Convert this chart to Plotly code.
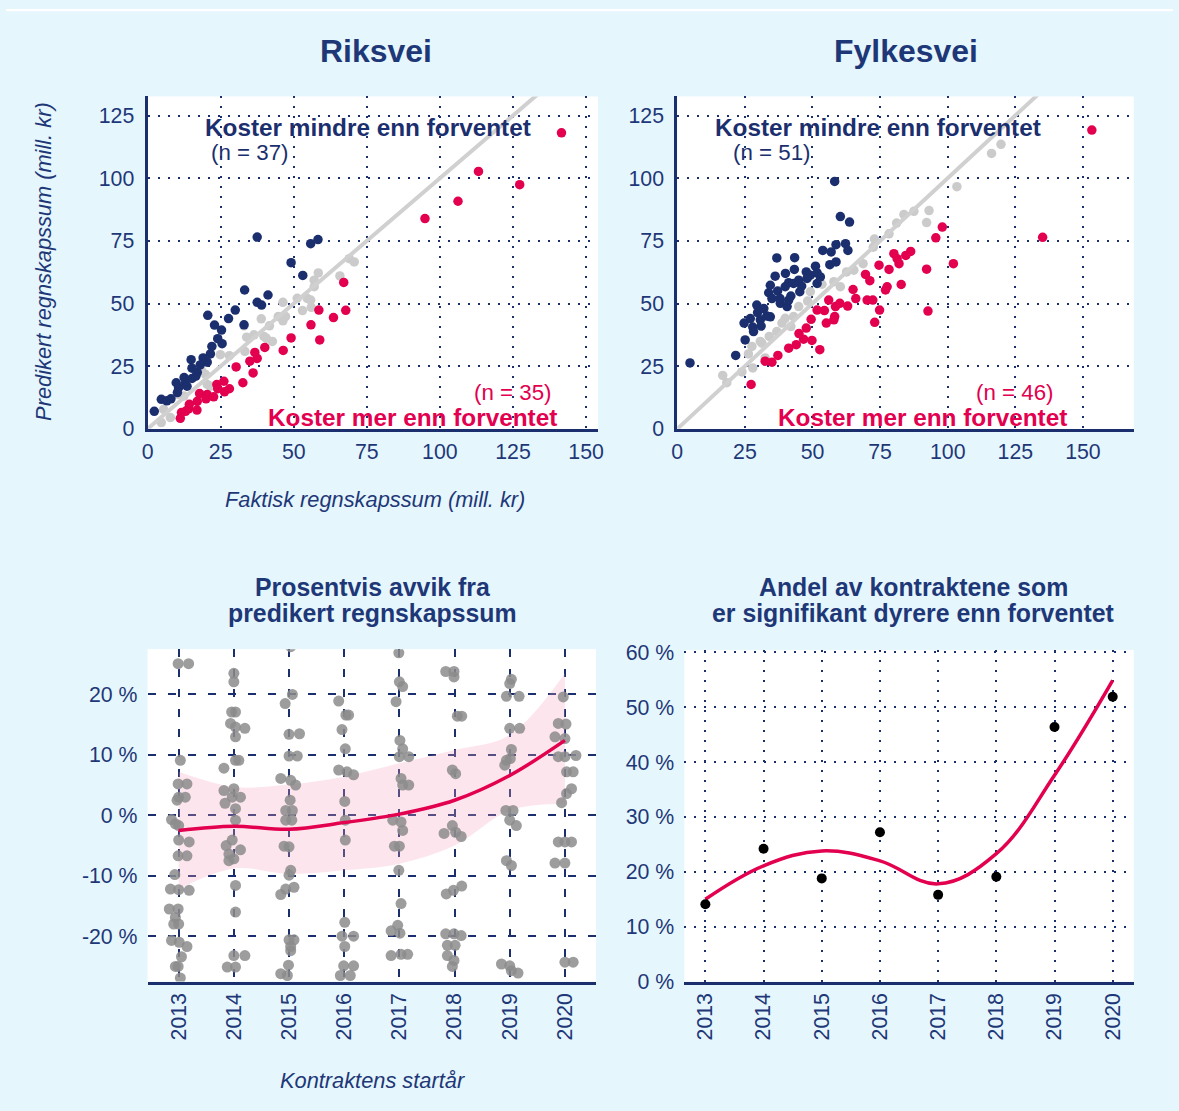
import plotly.graph_objects as go

# ---------------------------------------------------------------
# Data: actual vs. predicted cost (mill. kr) for national roads
# ---------------------------------------------------------------
riks_navy_x = [37.5, 55.8, 58.3, 49.1, 53.1, 33.2, 41.2, 37.5, 39.0, 30.0, 20.6, 27.7, 22.9, 25.3,
               33.0, 25.5, 22.0, 21.5, 19.0, 20.4, 14.9, 15.2, 15.2, 9.8, 10.6, 12.9, 4.7, 6.6, 2.3,
               10.2, 12.5, 17.0, 24.0, 8.0, 18.0, 13.5, 16.5]
riks_navy_y = [76.5, 73.9, 75.5, 66.3, 61.2, 55.4, 53.4, 50.5, 49.4, 47.4, 45.3, 44.0, 41.4, 39.4,
               41.5, 34.0, 32.9, 29.9, 28.3, 26.6, 27.6, 24.2, 20.1, 18.4, 16.4, 18.1, 11.8, 11.2, 7.0,
               14.5, 20.5, 22.5, 36.0, 12.0, 25.5, 17.0, 21.0]
riks_red_x = [141.6, 113.2, 127.3, 106.2, 94.9, 67.1, 58.6, 67.8, 63.6, 55.9, 58.9, 49.1, 46.4, 40.1,
              36.7, 37.5, 30.3, 36.1, 32.6, 23.7, 26.1, 26.3, 22.6, 17.8, 20.4, 14.3, 16.9, 11.6, 11.2,
              14.0, 20.0, 24.0, 35.0, 13.0, 17.0, 28.0]
riks_red_y = [118.1, 102.7, 97.4, 90.8, 83.9, 58.4, 47.4, 47.3, 44.4, 41.5, 35.5, 36.3, 31.3, 32.5,
              30.5, 28.1, 24.7, 22.3, 18.4, 17.7, 19.0, 14.8, 12.8, 14.1, 13.7, 9.8, 7.5, 6.5, 4.2,
              8.0, 12.0, 16.0, 27.0, 7.0, 11.0, 16.0]
riks_gray_x = [69.0, 70.7, 58.4, 57.0, 57.0, 65.8, 51.2, 54.6, 55.8, 53.0, 56.0, 46.3, 44.7, 47.2,
               46.3, 38.9, 41.7, 33.0, 33.9, 36.4, 39.8, 42.7, 40.6, 33.3, 28.0, 24.9, 18.6, 19.8,
               20.4, 21.5, 10.6, 12.4, 5.5, 7.8, 4.7]
riks_gray_y = [67.9, 66.6, 62.2, 59.3, 56.7, 61.0, 52.1, 52.1, 51.4, 47.2, 48.5, 50.5, 44.8, 44.8,
               43.1, 43.9, 41.1, 41.1, 36.6, 37.5, 36.9, 34.9, 36.2, 30.9, 29.2, 29.6, 23.0, 21.7,
               17.7, 17.0, 13.7, 13.1, 7.8, 4.5, 2.5]

# County roads
fylke_navy_x = [4.7, 21.6, 25.1, 24.7, 27.9, 28.2, 30.7, 29.7, 33.1, 34.4, 29.4, 33.8, 34.4, 36.2,
                37.1, 36.8, 38.1, 40.6, 41.2, 39.9, 41.2, 43.0, 44.9, 43.3, 43.4, 45.3, 47.7, 49.2,
                51.1, 51.7, 52.9, 51.7, 53.8, 56.9, 58.7, 62.2, 63.1, 56.4, 58.7, 60.3, 63.7, 58.2,
                32.0, 38.0, 42.0, 46.0, 48.0, 35.0, 40.0, 27.0, 31.0]
fylke_navy_y = [26.3, 29.3, 35.5, 42.2, 40.6, 38.8, 43.5, 46.4, 45.0, 44.7, 49.4, 54.3, 57.3, 60.9,
                55.0, 68.2, 50.1, 48.8, 51.4, 56.7, 58.3, 58.0, 59.3, 63.6, 68.3, 54.7, 62.6, 61.3,
                64.9, 62.2, 60.6, 58.0, 71.2, 70.6, 73.5, 73.9, 71.2, 65.5, 66.6, 84.7, 82.5, 98.7,
                48.0, 52.0, 53.0, 57.0, 60.0, 52.0, 62.0, 44.0, 41.0]
fylke_red_x = [153.3, 135.1, 98.0, 95.6, 102.1, 92.2, 92.7, 86.3, 84.5, 82.0, 80.1, 81.3, 78.3, 74.6,
               69.6, 71.2, 65.0, 77.6, 77.0, 82.8, 70.2, 72.3, 74.8, 73.0, 56.0, 58.5, 60.1, 51.7,
               54.4, 55.1, 57.9, 58.2, 49.5, 47.7, 46.7, 49.8, 44.0, 41.2, 52.7, 37.2, 35.0, 32.5,
               27.3, 45.0, 63.0, 66.0]
fylke_red_y = [119.2, 76.4, 80.5, 76.2, 65.9, 63.7, 47.0, 70.8, 69.2, 65.9, 69.9, 67.9, 63.6, 65.3,
               61.6, 59.1, 55.6, 56.7, 55.4, 57.6, 51.4, 51.4, 47.4, 42.5, 51.4, 48.8, 50.1, 47.4,
               47.2, 42.2, 43.5, 44.8, 43.7, 40.2, 35.8, 35.3, 33.6, 32.2, 31.6, 29.3, 26.6, 27.0,
               17.7, 38.0, 49.0, 52.0]
fylke_gray_x = [119.7, 116.2, 103.4, 93.1, 92.2, 87.5, 83.8, 81.1, 78.3, 72.9, 72.5, 68.7, 65.3, 62.6,
                60.3, 57.9, 53.5, 49.2, 48.2, 44.9, 43.0, 39.9, 38.7, 42.0, 36.8, 34.0, 30.7, 27.6,
                26.3, 23.9, 32.5, 31.3, 16.8, 18.3, 27.9]
fylke_gray_y = [113.5, 109.9, 96.6, 87.1, 82.3, 86.8, 85.5, 82.1, 77.8, 75.7, 72.5, 65.9, 63.3, 62.6,
                56.7, 58.7, 57.7, 54.7, 51.0, 48.8, 44.8, 44.1, 42.2, 40.8, 38.8, 36.9, 34.9, 32.9,
                29.9, 22.7, 28.3, 34.2, 21.3, 18.4, 24.3]

# Reference line: predicted equals actual
likhet = [0, 175]

# ---------------------------------------------------------------
# Percent deviation from predicted cost, per contract start year
# (jitter = horizontal spread of the dots within each year)
# ---------------------------------------------------------------
avvik_2013 = [25.1, 25.1, 9.1, 5.2, 5.2, 3.0, 3.0, 2.5, -0.7, -1.4, -1.7, -4.1, -4.4, -6.7, -6.7,
              -9.8, -12.2, -12.3, -12.4, -15.5, -15.5, -16.9, -18.0, -18.0, -20.7, -21.0, -21.7,
              -23.4, -25.0, -25.0, -26.9]
jitter_2013 = [-0.01, 0.18, 0.03, -0.01, 0.15, 0.0, 0.12, -0.03, -0.13, -0.06, 0.0, 0.0, 0.19, -0.01,
               0.15, -0.07, -0.15, 0.0, 0.19, -0.17, -0.01, -0.06, 0.0, -0.09, -0.13, 0.01, 0.15,
               0.05, -0.06, -0.01, 0.03]
avvik_2014 = [23.5, 22.1, 17.1, 17.1, 15.2, 14.6, 14.4, 13.0, 7.8, 9.1, 9.1, 4.1, 4.4, 3.0, 3.0, 2.0,
              1.1, -0.8, -4.1, -5.0, -5.7, -6.4, -7.2, -7.5, -11.6, -16.0, -23.2, -23.2, -25.1, -25.1]
jitter_2014 = [0.0, 0.0, -0.04, 0.03, -0.06, 0.03, 0.2, 0.03, -0.18, 0.03, 0.09, -0.18, 0.0, 0.12,
               -0.03, -0.16, 0.03, 0.03, -0.03, -0.14, 0.12, -0.09, 0.0, -0.09, 0.03, 0.03, 0.0, 0.2,
               -0.12, 0.03]
avvik_2015 = [27.9, 20.0, 18.5, 13.4, 13.5, 9.8, 9.8, 6.1, 5.8, 5.0, 2.5, 0.8, 0.8, -0.8, -0.8, -5.1,
              -5.2, -9.1, -9.9, -11.9, -12.2, -13.1, -20.6, -20.6, -21.7, -22.4, -24.8, -26.2, -26.5]
jitter_2015 = [0.03, 0.06, -0.07, 0.0, 0.19, 0.0, 0.15, -0.15, 0.03, 0.12, 0.02, -0.06, 0.06, -0.06,
               0.05, -0.09, 0.0, 0.03, 0.0, 0.09, -0.06, -0.15, 0.0, 0.09, 0.03, 0.03, -0.01, -0.15,
               -0.03]
avvik_2016 = [18.9, 16.6, 16.6, 14.2, 11.0, 7.5, 7.2, 6.7, 2.3, -0.8, -4.1, -17.7, -20.0, -20.0,
              -21.7, -24.9, -24.9, -26.5, -26.5]
jitter_2016 = [-0.1, 0.03, 0.08, -0.04, 0.02, -0.1, 0.05, 0.17, 0.01, 0.02, 0.02, 0.01, -0.04, 0.17,
               0.01, -0.01, 0.17, -0.07, 0.11]
avvik_2017 = [26.9, 22.1, 21.3, 18.8, 12.4, 11.0, 9.7, 9.7, 6.1, 5.0, 5.0, -0.8, -1.1, -2.5, -5.1,
              -5.1, -9.1, -14.6, -19.1, -18.2, -19.5, -23.2, -23.0, -23.0]
jitter_2017 = [-0.01, 0.0, 0.06, -0.06, 0.01, 0.06, 0.0, 0.17, 0.03, 0.06, 0.17, -0.12, 0.03, 0.06,
               -0.09, 0.0, -0.01, 0.03, -0.15, -0.03, 0.01, -0.15, 0.03, 0.15]
avvik_2018 = [23.8, 23.8, 22.9, 16.4, 16.4, 7.5, 6.9, -1.7, -3.0, -2.8, -3.5, -11.7, -12.4, -13.0,
              -19.6, -19.6, -19.9, -21.5, -21.5, -23.2, -24.0, -25.0]
jitter_2018 = [-0.16, -0.01, -0.01, 0.05, 0.13, -0.04, 0.02, -0.04, -0.19, 0.02, 0.12, 0.13, -0.02,
               -0.15, -0.16, -0.01, 0.12, -0.13, 0.01, -0.13, -0.01, -0.04]
avvik_2019 = [22.5, 21.8, 19.7, 19.7, 14.4, 14.4, 10.9, 9.1, 8.3, 9.4, 0.8, 0.8, -0.8, -1.7, -7.5,
              -8.3, -24.6, -24.9, -25.7, -26.1]
jitter_2019 = [0.03, 0.0, -0.06, 0.17, 0.0, 0.18, 0.03, -0.06, -0.09, 0.01, -0.07, 0.06, 0.0, 0.12,
               -0.06, 0.03, -0.15, 0.0, 0.03, 0.15]
avvik_2020 = [19.6, 15.2, 15.1, 13.0, 12.7, 9.7, 9.7, 9.9, 7.2, 7.2, 4.4, 3.6, 2.1, -4.4, -4.4, -4.4,
              -7.9, -7.9, -24.3, -24.3]
jitter_2020 = [-0.03, -0.12, 0.02, -0.18, 0.0, -0.12, 0.0, 0.2, 0.03, 0.15, 0.12, 0.03, -0.06, -0.12,
               0.0, 0.12, -0.18, 0.0, 0.0, 0.15]

aar = [2013, 2014, 2015, 2016, 2017, 2018, 2019, 2020]
avvik_trend = [-2.5, -1.8, -2.3, -1.2, 0.2, 2.5, 6.6, 12.4]
avvik_ovre = [7.2, 4.7, 5.1, 6.4, 8.6, 10.8, 13.3, 23.5]
avvik_nedre = [-12.2, -8.8, -9.7, -9.1, -8.0, -5.0, 0.8, 1.9]

# Share of contracts significantly more expensive than predicted (%)
andel_dyrere = [14.1, 24.2, 18.8, 27.2, 15.8, 19.1, 46.4, 51.9]
andel_trend = [15.0, 21.1, 23.8, 22.0, 17.8, 23.3, 37.6, 54.9]

# ---------------------------------------------------------------
# Styling
# ---------------------------------------------------------------
W, H = 1179, 1111
# The page body keeps an 8 px margin and the whole page is shown scaled
# to the window, so window positions are converted back to figure pixels.
BODY = 8
SX = W / (W + 2 * BODY)
SY = H / (H + 2 * BODY)
FS = 1 / SY  # font compensation for that scaling

BG = "#E6F6FD"
NAVY = "#1B2F6E"
TEXT = "#1E3877"
RED = "#E2004F"
LIGHT = "#CBCBCB"
FONT = "Liberation Sans, Arial, sans-serif"


def fx(px):
    return (px / SX - BODY) / W


def fy(py):
    # small extra vertical stretch keeps the lower panels in place
    py = py + (py - 300) * 0.006
    return 1 - (py / SY - BODY) / H


fig = go.Figure()

# --- Scatter panels ---
for xa, ya, gx, gy, nx, ny, rx, ry in [
    ("x", "y", riks_gray_x, riks_gray_y, riks_navy_x, riks_navy_y, riks_red_x, riks_red_y),
    ("x2", "y2", fylke_gray_x, fylke_gray_y, fylke_navy_x, fylke_navy_y, fylke_red_x, fylke_red_y),
]:
    fig.add_trace(go.Scatter(x=gx, y=gy, mode="markers", xaxis=xa, yaxis=ya,
                             marker=dict(size=9.5, color=LIGHT), showlegend=False))
    fig.add_trace(go.Scatter(x=likhet, y=likhet, mode="lines", xaxis=xa, yaxis=ya,
                             line=dict(color="#D0D0D0", width=4), showlegend=False))
    fig.add_trace(go.Scatter(x=nx, y=ny, mode="markers", xaxis=xa, yaxis=ya,
                             marker=dict(size=9.5, color=NAVY), showlegend=False))
    fig.add_trace(go.Scatter(x=rx, y=ry, mode="markers", xaxis=xa, yaxis=ya,
                             marker=dict(size=9.5, color=RED), showlegend=False))

# --- Deviation panel: confidence band, dots, trend ---
fig.add_trace(go.Scatter(x=aar, y=avvik_nedre, mode="lines", xaxis="x3", yaxis="y3",
                         line=dict(width=0, shape="spline"), showlegend=False, hoverinfo="skip"))
fig.add_trace(go.Scatter(x=aar, y=avvik_ovre, mode="lines", xaxis="x3", yaxis="y3",
                         line=dict(width=0, shape="spline"), fill="tonexty",
                         fillcolor="rgba(244,160,185,0.28)", showlegend=False, hoverinfo="skip"))

groups = [
    (2013, jitter_2013, avvik_2013), (2014, jitter_2014, avvik_2014),
    (2015, jitter_2015, avvik_2015), (2016, jitter_2016, avvik_2016),
    (2017, jitter_2017, avvik_2017), (2018, jitter_2018, avvik_2018),
    (2019, jitter_2019, avvik_2019), (2020, jitter_2020, avvik_2020),
]
for year, jit, vals in groups:
    fig.add_trace(go.Scatter(x=[year + j for j in jit], y=vals, mode="markers",
                             xaxis="x3", yaxis="y3",
                             marker=dict(size=11, color="rgba(140,140,140,0.85)"),
                             showlegend=False))
fig.add_trace(go.Scatter(x=aar, y=avvik_trend, mode="lines", xaxis="x3", yaxis="y3",
                         line=dict(color=RED, width=3.5, shape="spline", smoothing=1.0),
                         showlegend=False))

# --- Share panel ---
fig.add_trace(go.Scatter(x=aar, y=andel_trend, mode="lines", xaxis="x4", yaxis="y4",
                         line=dict(color=RED, width=3.5, shape="spline", smoothing=1.1),
                         showlegend=False))
fig.add_trace(go.Scatter(x=aar, y=andel_dyrere, mode="markers", xaxis="x4", yaxis="y4",
                         marker=dict(size=10, color="black"), showlegend=False))

tickfont = dict(family=FONT, size=21 * FS, color=TEXT)
dotgrid = dict(showgrid=True, gridcolor=NAVY, gridwidth=2, griddash="2px,8px")
dashgrid = dict(showgrid=True, gridcolor=NAVY, gridwidth=2, griddash="8px,12px")

sc_ticks = [0, 25, 50, 75, 100, 125, 150]
y_ticks = [0, 25, 50, 75, 100, 125]
pct_vals = [20, 10, 0, -10, -20]
pct_text = ["20 %", "10 %", "0 %", "-10 %", "-20 %"]
share_vals = [0, 10, 20, 30, 40, 50, 60]
share_text = ["0 %", "10 %", "20 %", "30 %", "40 %", "50 %", "60 %"]

common_x = dict(showline=True, linecolor=NAVY, linewidth=3, zeroline=False, ticks="",
                tickfont=tickfont, fixedrange=True)

fig.update_layout(
    width=W, height=H, autosize=False,
    margin=dict(l=0, r=0, t=0, b=0),
    paper_bgcolor=BG, plot_bgcolor="white",
    font=dict(family=FONT, color=TEXT),
    xaxis=dict(domain=[fx(149), fx(598)], range=[0, 154.1], tickvals=sc_ticks,
               anchor="y", ticklabelstandoff=2, **common_x, **dotgrid),
    yaxis=dict(domain=[fy(429), fy(97)], range=[0, 132.6], tickvals=y_ticks, anchor="x",
               showline=True, linecolor=NAVY, linewidth=3, zeroline=False, ticks="",
               tickfont=tickfont, ticklabelstandoff=6, **dotgrid),
    xaxis2=dict(domain=[fx(677), fx(1132)], range=[0, 168.8], tickvals=sc_ticks,
                anchor="y2", ticklabelstandoff=2, **common_x, **dotgrid),
    yaxis2=dict(domain=[fy(429), fy(97)], range=[0, 132.6], tickvals=y_ticks, anchor="x2",
                showline=True, linecolor=NAVY, linewidth=3, zeroline=False, ticks="",
                tickfont=tickfont, ticklabelstandoff=6, **dotgrid),
    xaxis3=dict(domain=[fx(149), fx(596)], range=[2012.436, 2020.564], tickvals=aar,
                ticktext=[str(a) for a in aar], tickangle=-90, anchor="y3",
                ticklabelstandoff=0, **common_x, **dashgrid),
    yaxis3=dict(domain=[fy(981), fy(649)], range=[-27.5, 27.5], tickvals=pct_vals,
                ticktext=pct_text, anchor="x3", showline=False, zeroline=False, ticks="",
                tickfont=tickfont, ticklabelstandoff=9, **dashgrid),
    xaxis4=dict(domain=[fx(684), fx(1132)], range=[2012.638, 2020.362], tickvals=aar,
                ticktext=[str(a) for a in aar], tickangle=-90, anchor="y4",
                ticklabelstandoff=0, **common_x, **dotgrid),
    yaxis4=dict(domain=[fy(981), fy(650)], range=[0, 60.4], tickvals=share_vals,
                ticktext=share_text, anchor="x4", showline=False, zeroline=False, ticks="",
                tickfont=tickfont, ticklabelstandoff=9, **dotgrid),
)

# White strip along the top edge
fig.add_shape(type="rect", xref="paper", yref="paper", x0=0, x1=1, y0=fy(12), y1=1,
              fillcolor="white", line=dict(width=0), layer="below")


def label(text, x, y, size, color=TEXT, bold=False, italic=False, angle=0):
    fig.add_annotation(
        text=f"<b>{text}</b>" if bold else text,
        x=fx(x), y=fy(y), xref="paper", yref="paper", showarrow=False,
        xanchor="center", yanchor="middle", textangle=angle,
        font=dict(family=FONT, size=size * FS, color=color,
                  style="italic" if italic else "normal"),
    )


# Panel titles
label("Riksvei", 377, 52, 31.5, bold=True)
label("Fylkesvei", 905, 52, 31.5, bold=True)
label("Prosentvis avvik fra", 373, 587, 24.5, bold=True)
label("predikert regnskapssum", 373, 613, 24.5, bold=True)
label("Andel av kontraktene som", 912, 587, 24.5, bold=True)
label("er signifikant dyrere enn forventet", 912, 613, 24.5, bold=True)

# Axis titles
label("Predikert regnskapssum (mill. kr)", 45, 262, 21.5, italic=True, angle=-90)
label("Faktisk regnskapssum (mill. kr)", 376, 500, 21.5, italic=True)
label("Kontraktens startår", 373, 1080, 21.5, italic=True)

# In-panel annotations
label("Koster mindre enn forventet", 369, 128, 24, color=NAVY, bold=True)
label("(n = 37)", 251, 153, 22, color=NAVY)
label("(n = 35)", 513, 393, 22, color=RED)
label("Koster mer enn forventet", 413, 418, 24, color=RED, bold=True)

label("Koster mindre enn forventet", 877, 128, 24, color=NAVY, bold=True)
label("(n = 51)", 771, 153, 22, color=NAVY)
label("(n = 46)", 1013, 393, 22, color=RED)
label("Koster mer enn forventet", 921, 418, 24, color=RED, bold=True)

fig.write_html("out.html")
